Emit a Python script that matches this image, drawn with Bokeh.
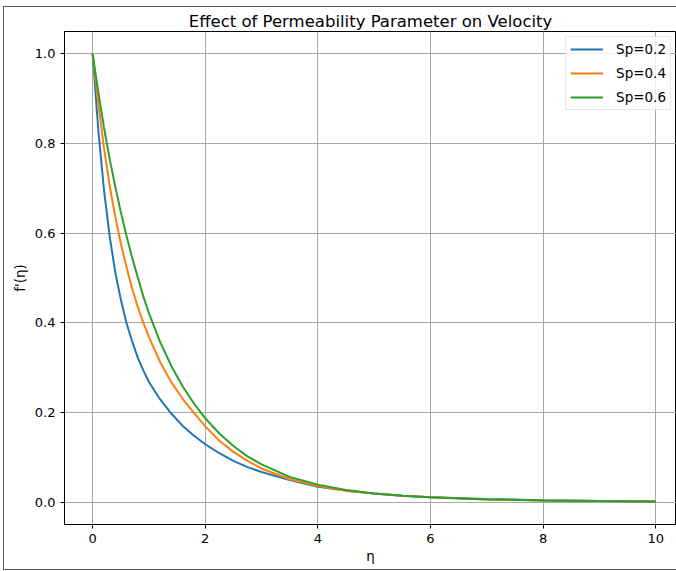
from bokeh.plotting import figure
from bokeh.layouts import column
from bokeh.models import Legend, LegendItem, Range1d, FixedTicker, PrintfTickFormatter
from bokeh.embed import file_html
from bokeh.resources import INLINE

eta = [0, 0.1, 0.2, 0.3, 0.4, 0.5, 0.6, 0.7, 0.8, 0.9, 1.0, 1.2, 1.4, 1.6, 1.8, 2.0,
       2.25, 2.5, 2.75, 3.0, 3.5, 4.0, 4.5, 5.0, 5.5, 6.0, 7.0, 8.0, 9.0, 10.0]
sp_02 = [1.0, 0.831, 0.698, 0.595, 0.514, 0.452, 0.400, 0.359, 0.323, 0.294, 0.268, 0.229, 0.197, 0.170, 0.148, 0.129,
         0.109, 0.092, 0.078, 0.067, 0.049, 0.034, 0.026, 0.019, 0.0143, 0.011, 0.0067, 0.004, 0.0025, 0.0015]
sp_04 = [1.0, 0.889, 0.792, 0.708, 0.638, 0.577, 0.525, 0.477, 0.436, 0.400, 0.368, 0.312, 0.267, 0.230, 0.199, 0.169,
         0.137, 0.112, 0.092, 0.075, 0.051, 0.036, 0.025, 0.019, 0.014, 0.0106, 0.006, 0.0037, 0.0022, 0.0014]
sp_06 = [1.0, 0.915, 0.837, 0.767, 0.705, 0.647, 0.595, 0.546, 0.502, 0.459, 0.421, 0.357, 0.303, 0.258, 0.220, 0.187,
         0.153, 0.125, 0.102, 0.084, 0.056, 0.039, 0.027, 0.019, 0.014, 0.0106, 0.006, 0.0037, 0.0022, 0.0014]
labels = ["Sp=0.2", "Sp=0.4", "Sp=0.6"]
colors = ["#1f77b4", "#ff7f0e", "#2ca02c"]
x_ticks = [0, 2, 4, 6, 8, 10]
y_ticks = [0.0, 0.2, 0.4, 0.6, 0.8, 1.0]

FONT = "DejaVu Sans"

p = figure(width=672, height=562, output_backend="svg", toolbar_location=None,
           x_range=Range1d(-0.5, 10.37), y_range=Range1d(-0.05, 1.05),
           min_border_left=60, min_border_right=0, min_border_top=24, min_border_bottom=45)

p.title.text = "Effect of Permeability Parameter on Velocity"
p.title.align = "center"
p.title.text_font = FONT
p.title.text_font_size = "16.5px"
p.title.text_font_style = "normal"
p.title.text_color = "#000000"
p.title.standoff = 2
p.title.offset = 0

p.outline_line_color = "#000000"
p.outline_line_width = 1

for ax in (p.xaxis[0], p.yaxis[0]):
    ax.axis_line_color = "#000000"
    ax.major_tick_line_color = "#000000"
    ax.major_tick_out = 4
    ax.major_tick_in = 0
    ax.minor_tick_line_color = None
    ax.major_label_text_font = FONT
    ax.major_label_text_font_size = "13px"
    ax.major_label_text_color = "#000000"
    ax.axis_label_text_font = FONT
    ax.axis_label_text_font_size = "13.5px"
    ax.axis_label_text_font_style = "normal"
    ax.axis_label_text_color = "#000000"

p.xaxis.ticker = FixedTicker(ticks=x_ticks)
p.yaxis.ticker = FixedTicker(ticks=y_ticks)
p.yaxis.formatter = PrintfTickFormatter(format="%.1f")
p.xaxis.axis_label = "η"
p.yaxis.axis_label = "f'(η)"
p.xaxis.axis_label_standoff = 2
p.yaxis.axis_label_standoff = 4

p.grid.grid_line_color = "#a8a8a8"
p.grid.grid_line_width = 1

items = []
for ys, lab, col in zip([sp_02, sp_04, sp_06], labels, colors):
    r = p.line(eta, ys, line_color=col, line_width=2)
    items.append(LegendItem(label=lab, renderers=[r]))

legend = Legend(items=items, location="top_right")
legend.label_text_font = FONT
legend.label_text_font_size = "13.5px"
legend.label_text_color = "#000000"
legend.border_line_color = "#d0d0d0"
legend.border_line_width = 1
legend.background_fill_alpha = 0.8
legend.glyph_width = 33
legend.glyph_height = 16
legend.label_height = 16
legend.label_standoff = 13
legend.spacing = 8
legend.padding = 4
legend.margin = 5
p.add_layout(legend)

layout = column(p, styles={"border-left": "1px solid #5a5a5a",
                           "border-top": "1px solid #5a5a5a",
                           "border-bottom": "1px solid #5a5a5a",
                           "margin-left": "3px", "margin-top": "6px"})

open("out.html", "w").write(file_html(layout, INLINE))
